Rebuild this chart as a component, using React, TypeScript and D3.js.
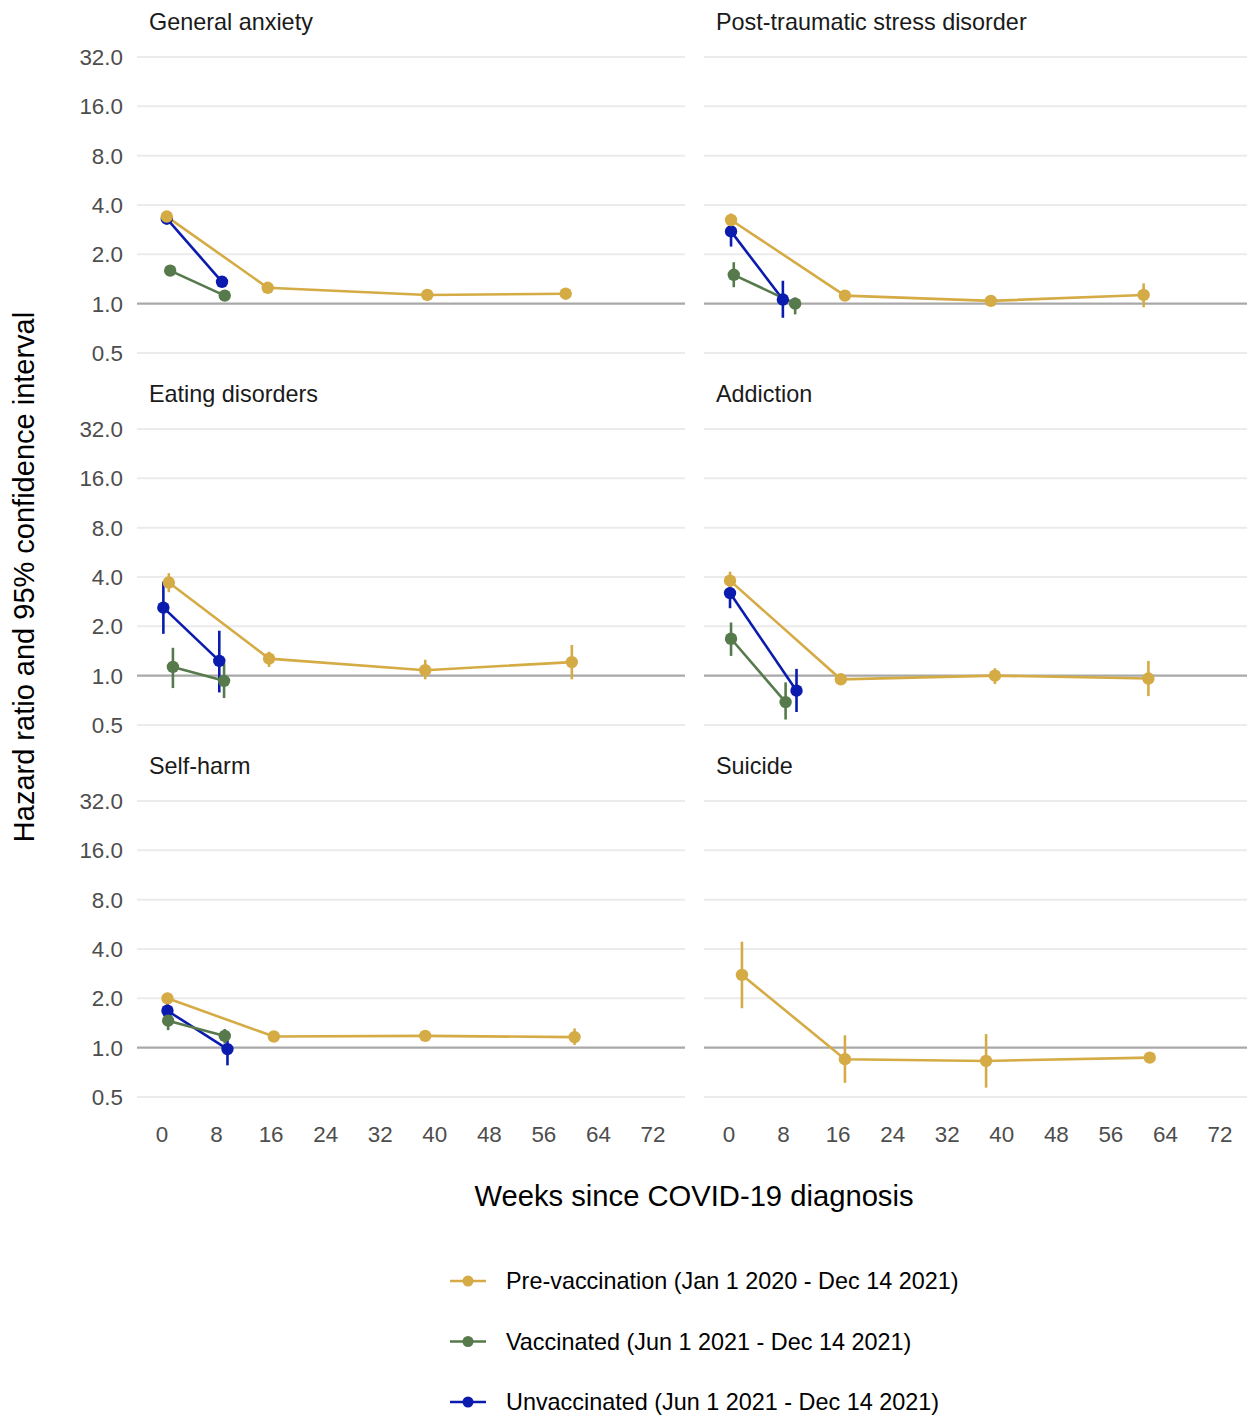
import React from "react";
import * as d3 from "d3";

// ---- data ----
const panelTitles = [
  "General anxiety",
  "Post-traumatic stress disorder",
  "Eating disorders",
  "Addiction",
  "Self-harm",
  "Suicide",
];

const seriesNames = [
  "Unvaccinated (Jun 1 2021 - Dec 14 2021)",
  "Vaccinated (Jun 1 2021 - Dec 14 2021)",
  "Pre-vaccination (Jan 1 2020 - Dec 14 2021)",
];
const legendOrder = [2, 1, 0];
const seriesColors = ["#0A1BAD", "#567A4B", "#D5AB45"];

// rows: [week, hazard ratio, lower 95% CI, upper 95% CI]
const anxietyUnvac = [[0.7, 3.3, 3.15, 3.45], [8.8, 1.36, 1.28, 1.44]];
const anxietyVac = [[1.2, 1.59, 1.5, 1.68], [9.2, 1.12, 1.06, 1.18]];
const anxietyPre = [[0.7, 3.4, 3.28, 3.52], [15.5, 1.25, 1.21, 1.29], [38.9, 1.13, 1.1, 1.16], [59.2, 1.15, 1.11, 1.19]];

const ptsdUnvac = [[0.3, 2.76, 2.23, 3.29], [7.9, 1.06, 0.82, 1.38]];
const ptsdVac = [[0.7, 1.5, 1.26, 1.79], [9.7, 1.0, 0.86, 1.09]];
const ptsdPre = [[0.3, 3.24, 2.95, 3.55], [17.0, 1.12, 1.07, 1.17], [38.4, 1.04, 1.0, 1.08], [60.8, 1.13, 0.95, 1.33]];

const eatingUnvac = [[0.2, 2.6, 1.8, 3.75], [8.4, 1.23, 0.79, 1.88]];
const eatingVac = [[1.6, 1.13, 0.84, 1.48], [9.1, 0.93, 0.73, 1.19]];
const eatingPre = [[1.0, 3.7, 3.23, 4.22], [15.7, 1.27, 1.13, 1.4], [38.6, 1.08, 0.95, 1.25], [60.1, 1.21, 0.95, 1.54]];

const addictionUnvac = [[0.15, 3.19, 2.58, 3.66], [9.9, 0.81, 0.6, 1.1]];
const addictionVac = [[0.3, 1.68, 1.32, 2.11], [8.3, 0.69, 0.54, 0.91]];
const addictionPre = [[0.15, 3.8, 3.33, 4.31], [16.4, 0.95, 0.9, 1.0], [39.0, 1.0, 0.89, 1.11], [61.5, 0.96, 0.75, 1.23]];

const selfharmUnvac = [[0.8, 1.68, 1.48, 2.05], [9.6, 0.98, 0.78, 1.22]];
const selfharmVac = [[0.9, 1.46, 1.28, 1.62], [9.2, 1.18, 1.06, 1.3]];
const selfharmPre = [[0.8, 2.0, 1.91, 2.16], [16.4, 1.17, 1.12, 1.22], [38.6, 1.18, 1.13, 1.23], [60.5, 1.16, 1.04, 1.31]];

const suicideUnvac: number[][] = [];
const suicideVac: number[][] = [];
const suicidePre = [[1.9, 2.78, 1.74, 4.43], [17.0, 0.85, 0.61, 1.19], [37.7, 0.83, 0.57, 1.21], [61.7, 0.87, 0.83, 0.91]];

const panelSeries = [
  [anxietyUnvac, anxietyVac, anxietyPre],
  [ptsdUnvac, ptsdVac, ptsdPre],
  [eatingUnvac, eatingVac, eatingPre],
  [addictionUnvac, addictionVac, addictionPre],
  [selfharmUnvac, selfharmVac, selfharmPre],
  [suicideUnvac, suicideVac, suicidePre],
];

const yTicks = [0.5, 1, 2, 4, 8, 16, 32];
const xTicks = [0, 8, 16, 24, 32, 40, 48, 56, 64, 72];

// ---- layout ----
const W = 1247;
const H = 1416;
const FONT = "'Liberation Sans', Arial, Helvetica, sans-serif";
const colLeft = [137, 704];
const panelW = 548;
const rowOffset = [0, 372, 744];

export default function App() {
  const panels = panelTitles.map((title, i) => {
    const col = i % 2;
    const row = Math.floor(i / 2);
    const left = colLeft[col];
    const off = rowOffset[row];
    const x = d3.scaleLinear().domain([0, 72]).range([left + 25, left + 516]);
    const y = d3.scaleLog().base(2).domain([0.5, 32]).range([353 + off, 57 + off]);
    const line = d3
      .line<number[]>()
      .x((d) => x(d[0]))
      .y((d) => y(d[1]));
    const series = panelSeries[i];
    return (
      <g key={title}>
        {yTicks.map((t) => (
          <line
            key={"g" + t}
            x1={left}
            x2={left + panelW}
            y1={y(t)}
            y2={y(t)}
            stroke={t === 1 ? "#A8A8A8" : "#EBEBEB"}
            strokeWidth={t === 1 ? 2.2 : 2}
          />
        ))}
        {col === 0 &&
          yTicks.map((t) => (
            <text
              key={"yl" + t}
              x={123}
              y={y(t) + 8}
              textAnchor="end"
              fontSize={22.4}
              fill="#4D4D4D"
              fontFamily={FONT}
            >
              {t.toFixed(1)}
            </text>
          ))}
        {row === 2 &&
          xTicks.map((t) => (
            <text
              key={"xl" + t}
              x={x(t)}
              y={1142}
              textAnchor="middle"
              fontSize={22.4}
              fill="#4D4D4D"
              fontFamily={FONT}
            >
              {t}
            </text>
          ))}
        <text x={left + 12} y={30 + off} fontSize={23.4} fill="#1A1A1A" fontFamily={FONT}>
          {title}
        </text>
        {series.map((s, si) =>
          s.map((d, k) => (
            <line
              key={"ci" + si + "-" + k}
              x1={x(d[0])}
              x2={x(d[0])}
              y1={y(d[2])}
              y2={y(d[3])}
              stroke={seriesColors[si]}
              strokeWidth={2.6}
            />
          ))
        )}
        {series.map((s, si) =>
          s.length > 1 ? (
            <path
              key={"ln" + si}
              d={line(s) || ""}
              fill="none"
              stroke={seriesColors[si]}
              strokeWidth={2.6}
            />
          ) : null
        )}
        {series.map((s, si) =>
          s.map((d, k) => (
            <circle
              key={"pt" + si + "-" + k}
              cx={x(d[0])}
              cy={y(d[1])}
              r={6.2}
              fill={seriesColors[si]}
            />
          ))
        )}
      </g>
    );
  });

  return (
    <svg
      width={W}
      height={H}
      style={{ position: "absolute", left: 0, top: 0, background: "#fff" }}
    >
      <rect x={0} y={0} width={W} height={H} fill="#fff" />
      {panels}
      <text
        transform={`translate(34,577) rotate(-90)`}
        textAnchor="middle"
        fontSize={29}
        fill="#000"
        fontFamily={FONT}
      >
        Hazard ratio and 95% confidence interval
      </text>
      <text x={694} y={1206} textAnchor="middle" fontSize={29.2} fill="#000" fontFamily={FONT}>
        Weeks since COVID-19 diagnosis
      </text>
      {legendOrder.map((si, j) => {
        const cy = 1281 + j * 60.5;
        return (
          <g key={"lg" + si}>
            <line x1={450} x2={486} y1={cy} y2={cy} stroke={seriesColors[si]} strokeWidth={2.6} />
            <circle cx={468} cy={cy} r={5.5} fill={seriesColors[si]} />
            <text x={506} y={cy + 8} fontSize={23.4} fill="#000" fontFamily={FONT}>
              {seriesNames[si]}
            </text>
          </g>
        );
      })}
    </svg>
  );
}
